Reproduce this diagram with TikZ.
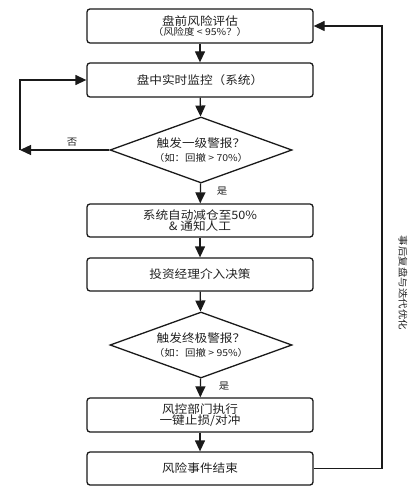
\documentclass[tikz,border=0pt]{standalone}
\usepackage{fontspec}
\setmainfont{Noto Sans CJK SC}[FakeStretch=1.1]
\usetikzlibrary{shapes.geometric,arrows.meta}
\definecolor{linec}{HTML}{1A1A1A}
\definecolor{textc}{HTML}{222222}
\newcommand{\subf}{\fontsize{9.5bp}{10bp}\selectfont}
\begin{document}
\begin{tikzpicture}[x=1bp,y=-1bp,
  box/.style={draw=linec, line width=1.3bp, rounded corners=3bp, minimum width=226bp, minimum height=34bp, inner sep=0pt, align=center, text=textc, font=\fontsize{11.5bp}{10.5bp}\selectfont},
  dia/.style={draw=linec, line width=1.3bp, diamond, aspect=2.76, minimum width=182bp, minimum height=66bp, inner sep=0pt, align=center, text=textc, font=\fontsize{11.5bp}{14bp}\selectfont},
  arr/.style={draw=linec, line width=1.3bp, -{Triangle[length=11bp,width=10bp]}},
  lab/.style={text=textc, font=\fontsize{9.5bp}{10bp}\selectfont, inner sep=0pt}
]
\fill[white] (0,0) rectangle (418,499);
\useasboundingbox (0,0) rectangle (418,499);

\node[box] (b1) at (200,26) {盘前风险评估\\{\subf （风险度 < 95\%？）}};
\node[box] (b2) at (200,80) {盘中实时监控（系统）};
\node[dia] (d1) at (201,150) {触发一级警报？\\{\subf （如：回撤 > 70\%）}};
\node[box, minimum height=33bp] (b3) at (200,220.5) {系统自动减仓至50\%\\\& 通知人工};
\node[box, minimum height=33bp] (b4) at (200,274.5) {投资经理介入决策};
\node[dia] (d2) at (201,345) {触发终极警报？\\{\subf （如：回撤 > 95\%）}};
\node[box] (b5) at (200,415) {风控部门执行\\一键止损/对冲};
\node[box, minimum height=33bp] (b6) at (200,468.5) {风险事件结束};

\coordinate (c1) at (20,150);
\coordinate (c2) at (382,26);

\draw[arr] (b1) -- (b2);
\draw[arr] (b2) -- (d1);
\draw[arr] (d1) -- (b3);
\draw[arr] (b3) -- (b4);
\draw[arr] (b4) -- (d2);
\draw[arr] (d2) -- (b5);
\draw[arr] (b5) -- (b6);
\draw[arr] (d1.west) -- (c1);
\draw[arr] (c1) |- (b2.west);
\draw[arr] (b6.east) -| (c2) -- (b1.east);

\node[lab] (no1) at (72,142) {否};
\node[lab] (yes1) at (222,191) {是};
\node[lab] (yes2) at (224,386) {是};
\node[lab, rotate=-90] (loop) at (403,283) {事后复盘与迭代优化};
\end{tikzpicture}
\end{document}
